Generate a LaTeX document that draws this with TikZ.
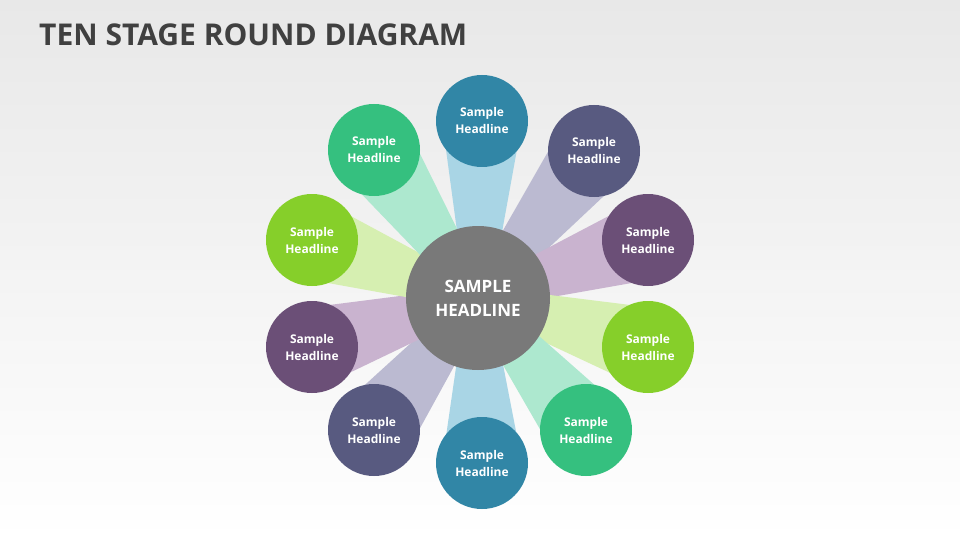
\documentclass[tikz,border=0pt]{standalone}
\usepackage{fontspec}
\setmainfont{Open Sans}
\usetikzlibrary{calc}
\definecolor{cT}{HTML}{3186A6}\definecolor{wT}{HTML}{A9D5E5}
\definecolor{cB}{HTML}{585A80}\definecolor{wB}{HTML}{BBBAD1}
\definecolor{cP}{HTML}{6B4F77}\definecolor{wP}{HTML}{C9B3CF}
\definecolor{cL}{HTML}{86CF2A}\definecolor{wL}{HTML}{D6EFB1}
\definecolor{cG}{HTML}{35C07F}\definecolor{wG}{HTML}{ADE8CF}
\definecolor{title}{HTML}{404040}
\tikzset{stage/.style={circle,minimum size=92pt,inner sep=0pt,text=white,font=\bfseries\fontsize{12}{17}\selectfont,align=center}}
\begin{document}
\begin{tikzpicture}[x=1pt,y=-1pt]
\shade[top color=gray!18,bottom color=white] (0,0) rectangle (960,540);
\useasboundingbox (0,0) rectangle (960,540);
\node[anchor=west,text=title,font=\bfseries\fontsize{30}{34}\selectfont,inner sep=0pt] (t) at (39,35) {TEN STAGE ROUND DIAGRAM};
\coordinate (c) at (478,298);
\foreach \n/\x/\y/\col in {a/482/121/T,b/594/151/B,d/648/240/P,e/648/347/L,f/586/430/G,g/482/463/T,h/374/430/B,i/312/347/P,j/312/240/L,k/374/150/G}{
  \coordinate (\n) at (\x,\y);
  \fill[w\col] ($(c)!12pt!90:(\n)$) -- ($(\n)!40pt!-90:(c)$) -- ($(\n)!40pt!90:(c)$) -- ($(c)!12pt!-90:(\n)$) -- cycle;
}
\node[circle,fill=gray!95!black,minimum size=144pt,text=white,align=center,font=\bfseries\fontsize{17}{24}\selectfont] (center) at (c) {SAMPLE\\HEADLINE};
\foreach \n/\col in {a/T,b/B,d/P,e/L,f/G,g/T,h/B,i/P,j/L,k/G}{
  \node[stage,fill=c\col] (s\n) at (\n) {Sample\\Headline};
}
\end{tikzpicture}
\end{document}
